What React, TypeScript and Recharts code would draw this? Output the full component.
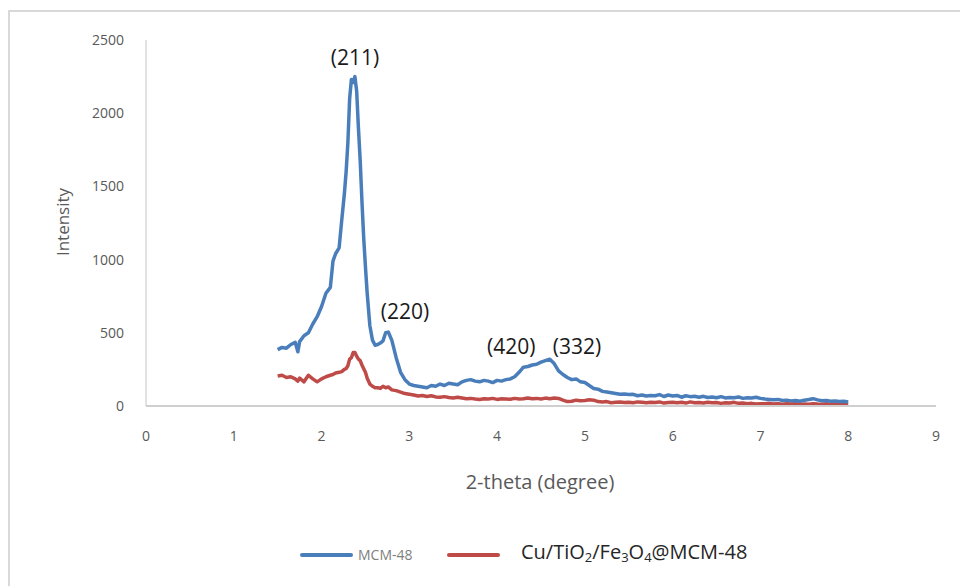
import React from "react";
import { LineChart, Line, XAxis, YAxis, ReferenceDot } from "recharts";

// 2-theta positions (degree)
const twoTheta = [
  1.5, 1.55, 1.6, 1.65, 1.7, 1.73, 1.75, 1.8, 1.85, 1.9,
  1.95, 2.0, 2.05, 2.1, 2.13, 2.16, 2.2, 2.23, 2.26, 2.28,
  2.3, 2.32, 2.34, 2.36, 2.38, 2.4, 2.42, 2.44, 2.46, 2.48,
  2.5, 2.52, 2.55, 2.58, 2.61, 2.64, 2.67, 2.7, 2.73, 2.76,
  2.8, 2.85, 2.9, 2.95, 3.0, 3.05, 3.1, 3.15, 3.2, 3.25,
  3.3, 3.35, 3.4, 3.45, 3.5, 3.55, 3.6, 3.65, 3.7, 3.75,
  3.8, 3.85, 3.9, 3.95, 4.0, 4.05, 4.1, 4.15, 4.2, 4.25,
  4.3, 4.35, 4.4, 4.45, 4.5, 4.55, 4.6, 4.65, 4.7, 4.75,
  4.8, 4.85, 4.9, 4.95, 5.0, 5.05, 5.1, 5.15, 5.2, 5.25,
  5.3, 5.35, 5.4, 5.45, 5.5, 5.55, 5.6, 5.65, 5.7, 5.75,
  5.8, 5.85, 5.9, 5.95, 6.0, 6.05, 6.1, 6.15, 6.2, 6.25,
  6.3, 6.35, 6.4, 6.45, 6.5, 6.55, 6.6, 6.65, 6.7, 6.75,
  6.8, 6.85, 6.9, 6.95, 7.0, 7.05, 7.1, 7.15, 7.2, 7.25,
  7.3, 7.35, 7.4, 7.45, 7.5, 7.55, 7.6, 7.65, 7.7, 7.75,
  7.8, 7.85, 7.9, 7.95, 8.0,
];

const mcm48 = [
  385, 400, 395, 420, 435, 370, 440, 480, 500, 560,
  610, 680, 770, 810, 990, 1040, 1080, 1270, 1450, 1600,
  1800, 2100, 2230, 2210, 2250, 2150, 1900, 1680, 1400, 1150,
  950, 770, 550, 450, 415, 420, 430, 445, 500, 505,
  450, 330, 230, 180, 150, 140, 135, 130, 125, 140,
  135, 150, 140, 155, 150, 145, 165, 175, 180, 170,
  165, 175, 170, 160, 175, 170, 180, 185, 200, 230,
  265, 270, 280, 285, 300, 310, 320, 290, 240, 215,
  195, 180, 185, 165, 160, 140, 120, 115, 100, 95,
  90, 85, 80, 82, 78, 80, 70, 75, 68, 72,
  70, 78, 65, 75, 68, 72, 60, 70, 64, 66,
  60, 66, 58, 62, 56, 64, 55, 58, 56, 62,
  52, 57, 55, 60, 52, 48, 45, 42, 45, 38,
  40, 35, 38, 32, 40, 44, 50, 42, 36, 38,
  32, 34, 30, 32, 28,
];

const cuTiFe = [
  205, 210, 195, 200, 185, 170, 190, 165, 210, 185,
  165, 185, 200, 210, 215, 225, 230, 235, 250, 255,
  275, 320, 330, 365, 365, 340, 320, 310, 280, 255,
  230, 190, 150, 135, 125, 125, 120, 135, 125, 130,
  110, 105, 95, 85, 80, 75, 68, 72, 65, 70,
  62, 60, 64, 58, 55, 60, 55, 50, 52, 48,
  45, 50, 48, 52, 45, 50, 48, 46, 52, 48,
  50, 55, 50, 52, 48, 54, 50, 55, 52, 40,
  30, 32, 40, 36, 38, 42, 40, 30, 28, 30,
  22, 25, 28, 24, 26, 22, 28, 25, 22, 26,
  24, 28, 20, 24, 26, 22, 25, 20, 28, 22,
  24, 20, 26, 22, 24, 18, 22, 20, 25, 18,
  20, 16, 18, 14, 16, 15, 18, 14, 16, 12,
  15, 13, 16, 12, 14, 12, 15, 13, 12, 15,
  11, 13, 12, 14, 12,
];

const xTicks = [0, 1, 2, 3, 4, 5, 6, 7, 8, 9];
const yTicks = [0, 500, 1000, 1500, 2000, 2500];

// peak labels (hkl) and where they sit
const peaks = [
  { label: "(211)", x: 2.38, y: 2377 },
  { label: "(220)", x: 2.95, y: 642 },
  { label: "(420)", x: 4.16, y: 403 },
  { label: "(332)", x: 4.91, y: 403 },
];

const BLUE = "#4a7ebb";
const RED = "#be4b48";
const FONT = "'Open Sans', 'Noto Sans', sans-serif";

export default function App() {
  const data = twoTheta.map((t, i) => ({
    t,
    mcm: mcm48[i],
    cu: cuTiFe[i],
  }));

  return (
    <div
      style={{
        position: "absolute",
        left: 0,
        top: 0,
        width: 960,
        height: 586,
        background: "#fff",
        overflow: "hidden",
        fontFamily: FONT,
      }}
    >
      {/* chart area frame */}
      <div
        style={{
          position: "absolute",
          left: 8,
          top: 10,
          width: 980,
          height: 620,
          borderLeft: "2px solid #d9d9d9",
          borderTop: "2px solid #d9d9d9",
        }}
      />
      <LineChart
        width={960}
        height={586}
        data={data}
        margin={{ top: 40, right: 24, bottom: 140, left: 0 }}
        style={{ position: "absolute", left: 0, top: 0 }}
      >
        <XAxis
          dataKey="t"
          type="number"
          domain={[0, 9]}
          ticks={xTicks}
          height={40}
          tickLine={false}
          tickSize={6}
          tickMargin={19}
          axisLine={{ stroke: "#cfcfcf", strokeWidth: 2 }}
          tick={{ fontSize: 14, fill: "#595959", fontFamily: FONT }}
        />
        <YAxis
          type="number"
          domain={[0, 2500]}
          ticks={yTicks}
          width={146}
          tickLine={false}
          tickSize={6}
          tickMargin={16}
          axisLine={{ stroke: "#c4c4c4", strokeWidth: 1 }}
          tick={{ fontSize: 14, fill: "#595959", fontFamily: FONT }}
        />
        <Line
          dataKey="cu"
          name="Cu/TiO2/Fe3O4@MCM-48"
          stroke={RED}
          strokeWidth={3.5}
          dot={false}
          type="linear"
          strokeLinejoin="round"
          isAnimationActive={false}
        />
        <Line
          dataKey="mcm"
          name="MCM-48"
          stroke={BLUE}
          strokeWidth={3.5}
          dot={false}
          type="linear"
          strokeLinejoin="round"
          isAnimationActive={false}
        />
        {peaks.map((p) => (
          <ReferenceDot
            key={p.label}
            x={p.x}
            y={p.y}
            r={0}
            fill="none"
            stroke="none"
            label={{
              value: p.label,
              position: "center",
              fontSize: 21,
              fill: "#1a1a1a",
              fontFamily: FONT,
            }}
          />
        ))}
      </LineChart>

      {/* axis titles */}
      <div
        style={{
          position: "absolute",
          left: 62,
          top: 222,
          transform: "translate(-50%, -50%) rotate(-90deg)",
          fontSize: 17,
          color: "#595959",
          whiteSpace: "nowrap",
        }}
      >
        Intensity
      </div>
      <div
        style={{
          position: "absolute",
          left: 540,
          top: 481,
          transform: "translate(-50%, -50%)",
          fontSize: 20,
          color: "#595959",
          whiteSpace: "nowrap",
        }}
      >
        2-theta (degree)
      </div>

      {/* legend */}
      <div style={{ position: "absolute", left: 300, top: 553, width: 53, height: 4, borderRadius: 2, background: BLUE }} />
      <div
        style={{
          position: "absolute",
          left: 358,
          top: 554,
          transform: "translateY(-50%)",
          fontSize: 14,
          color: "#808080",
          whiteSpace: "nowrap",
        }}
      >
        MCM-48
      </div>
      <div style={{ position: "absolute", left: 447, top: 553, width: 53, height: 4, borderRadius: 2, background: RED }} />
      <div
        style={{
          position: "absolute",
          left: 521,
          top: 554,
          transform: "translateY(-50%)",
          fontSize: 20,
          color: "#262626",
          whiteSpace: "nowrap",
          lineHeight: "24px",
        }}
      >
        Cu/TiO<sub style={{ fontSize: 13, verticalAlign: "-3px" }}>2</sub>/Fe
        <sub style={{ fontSize: 13, verticalAlign: "-3px" }}>3</sub>O
        <sub style={{ fontSize: 13, verticalAlign: "-3px" }}>4</sub>@MCM-48
      </div>
    </div>
  );
}
